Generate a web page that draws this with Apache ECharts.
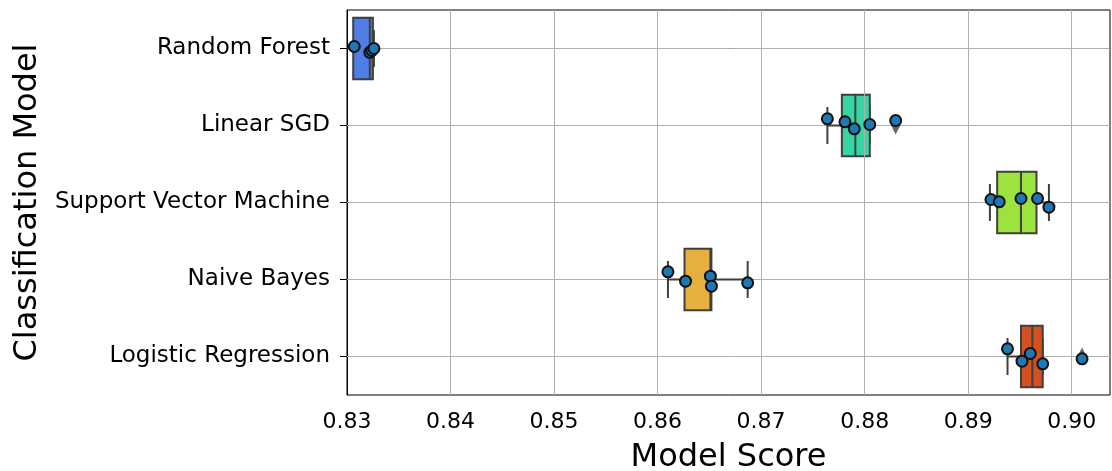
<!DOCTYPE html>
<html>
<head>
<meta charset="utf-8">
<script src="https://cdn.jsdelivr.net/npm/echarts@6/dist/echarts.min.js"></script>
<style>html,body{margin:0;padding:0;background:#fff}#c{width:1112px;height:471px}</style>
</head>
<body>
<div id="c"></div>
<script>
const categories = ['Random Forest', 'Linear SGD', 'Support Vector Machine', 'Naive Bayes', 'Logistic Regression'];
const boxColors = ['#4f7fe6', '#35d6a3', '#9ce43d', '#e5b03f', '#d5501f'];
const whiskerLow  = [0.8299, 0.8764, 0.8921, 0.8610, 0.8938];
const q1          = [0.8306, 0.8778, 0.8928, 0.8626, 0.8951];
const median      = [0.8322, 0.8791, 0.8951, 0.8651, 0.8962];
const q3          = [0.8325, 0.8805, 0.8966, 0.8652, 0.8972];
const whiskerHigh = [0.8326, 0.8805, 0.8978, 0.8687, 0.8972];
const scoresRF  = [0.8298, 0.8307, 0.8322, 0.8324, 0.8326];
const scoresSGD = [0.8764, 0.8781, 0.8790, 0.8805, 0.8830];
const scoresSVM = [0.8922, 0.8930, 0.8951, 0.8967, 0.8978];
const scoresNB  = [0.8610, 0.8627, 0.8651, 0.8652, 0.8687];
const scoresLR  = [0.8938, 0.8952, 0.8960, 0.8972, 0.9010];
const jitterRF  = [-0.02, -0.026, 0.05, 0.026, 0.0];
const jitterSGD = [-0.087, -0.048, 0.043, -0.013, -0.065];
const jitterSVM = [-0.039, -0.009, -0.052, -0.052, 0.061];
const jitterNB  = [-0.1, 0.022, -0.043, 0.087, 0.043];
const jitterLR  = [-0.1, 0.061, -0.039, 0.095, 0.03];
const flierModel = [1, 4];
const flierValue = [0.8830, 0.9010];
const xTicks = [0.83, 0.84, 0.85, 0.86, 0.87, 0.88, 0.89, 0.90];

const allScores = [scoresRF, scoresSGD, scoresSVM, scoresNB, scoresLR];
const allJitter = [jitterRF, jitterSGD, jitterSVM, jitterNB, jitterLR];
const pointData = [];
allScores.forEach((arr, i) => arr.forEach((v, j) => pointData.push([v, i + allJitter[i][j]])));
const boxData = categories.map((c, i) => [i, whiskerLow[i], q1[i], median[i], q3[i], whiskerHigh[i]]);
const flierData = flierModel.map((m, i) => [flierValue[i], m]);

const EDGE = '#3f3f3f';
const FONT = 'DejaVu Sans';
const chart = echarts.init(document.getElementById('c'), null, {renderer: 'canvas'});
chart.setOption({
  animation: false,
  backgroundColor: '#fff',
  grid: {left: 347, right: 2, top: 10, bottom: 76, containLabel: false, outerBoundsMode: 'none',
    show: true, borderColor: '#000', borderWidth: 1, backgroundColor: '#fff'},
  xAxis: {
    type: 'value', min: 0.83, max: 0.9037, interval: 0.01,
    name: 'Model Score', nameLocation: 'middle', nameGap: 47,
    nameTextStyle: {fontFamily: FONT, fontSize: 32, color: '#000'},
    axisLine: {show: true, lineStyle: {color: '#000', width: 1}},
    axisTick: {show: true, length: 7, lineStyle: {color: '#000', width: 1}},
    axisLabel: {fontFamily: FONT, fontSize: 22, color: '#000', margin: 16, showMaxLabel: false,
      formatter: v => Math.abs(v * 100 - Math.round(v * 100)) < 1e-6 ? v.toFixed(2) : ''},
    splitLine: {show: false}
  },
  yAxis: [{
    type: 'category', data: categories, inverse: true,
    name: 'Classification Model', nameLocation: 'middle', nameGap: 302, nameRotate: 90,
    nameTextStyle: {fontFamily: FONT, fontSize: 32, color: '#000'},
    axisLine: {show: true, lineStyle: {color: '#000', width: 1}},
    axisTick: {show: true, alignWithLabel: true, length: 7, lineStyle: {color: '#000', width: 1}},
    axisLabel: {fontFamily: FONT, fontSize: 23, color: '#000', margin: 17},
    splitLine: {show: false}
  }, {
    type: 'value', min: -0.5, max: 4.5, inverse: true, show: false
  }],
  series: [{
    type: 'custom', xAxisIndex: 0, yAxisIndex: 1, z: 2, clip: true,
    data: boxData,
    encode: {x: [1, 2, 3, 4, 5], y: 0},
    renderItem: function (params, api) {
      const idx = api.value(0);
      const band = api.size([0, 1])[1];
      const h = band * 0.8;
      const cap = band * 0.48;
      const pLo = api.coord([api.value(1), idx]);
      const pA = api.coord([api.value(2), idx]);
      const pM = api.coord([api.value(3), idx]);
      const pB = api.coord([api.value(4), idx]);
      const pHi = api.coord([api.value(5), idx]);
      const y = pA[1];
      const ls = {stroke: EDGE, lineWidth: 2, fill: null};
      return {
        type: 'group',
        children: [
          {type: 'line', shape: {x1: pLo[0], y1: y, x2: pA[0], y2: y}, style: ls},
          {type: 'line', shape: {x1: pB[0], y1: y, x2: pHi[0], y2: y}, style: ls},
          {type: 'line', shape: {x1: pLo[0], y1: y - cap / 2, x2: pLo[0], y2: y + cap / 2}, style: ls},
          {type: 'line', shape: {x1: pHi[0], y1: y - cap / 2, x2: pHi[0], y2: y + cap / 2}, style: ls},
          {type: 'rect', shape: {x: pA[0], y: y - h / 2, width: pB[0] - pA[0], height: h},
            style: {fill: boxColors[params.dataIndex], stroke: EDGE, lineWidth: 2}},
          {type: 'line', shape: {x1: pM[0], y1: y - h / 2, x2: pM[0], y2: y + h / 2}, style: ls}
        ]
      };
    },
    markLine: {
      silent: true, symbol: 'none', z: 1, animation: false,
      label: {show: false},
      lineStyle: {color: '#b0b0b0', width: 1, type: 'solid'},
      data: categories.map((c, i) => ({yAxis: i}))
    }
  }, {
    type: 'scatter', xAxisIndex: 0, yAxisIndex: 1, z: 4,
    data: flierData, symbol: 'diamond', symbolSize: [9, 18],
    itemStyle: {color: EDGE},
    markLine: {
      silent: true, symbol: 'none', z: 3, animation: false,
      label: {show: false},
      lineStyle: {color: '#b0b0b0', width: 1, type: 'solid'},
      data: xTicks.slice(1).map(v => ({xAxis: v}))
    }
  }, {
    type: 'scatter', xAxisIndex: 0, yAxisIndex: 1, z: 5,
    data: pointData, symbol: 'circle', symbolSize: 11,
    itemStyle: {color: '#1f77b4', borderColor: '#111', borderWidth: 2, opacity: 1}
  }]
});
</script>
</body>
</html>
